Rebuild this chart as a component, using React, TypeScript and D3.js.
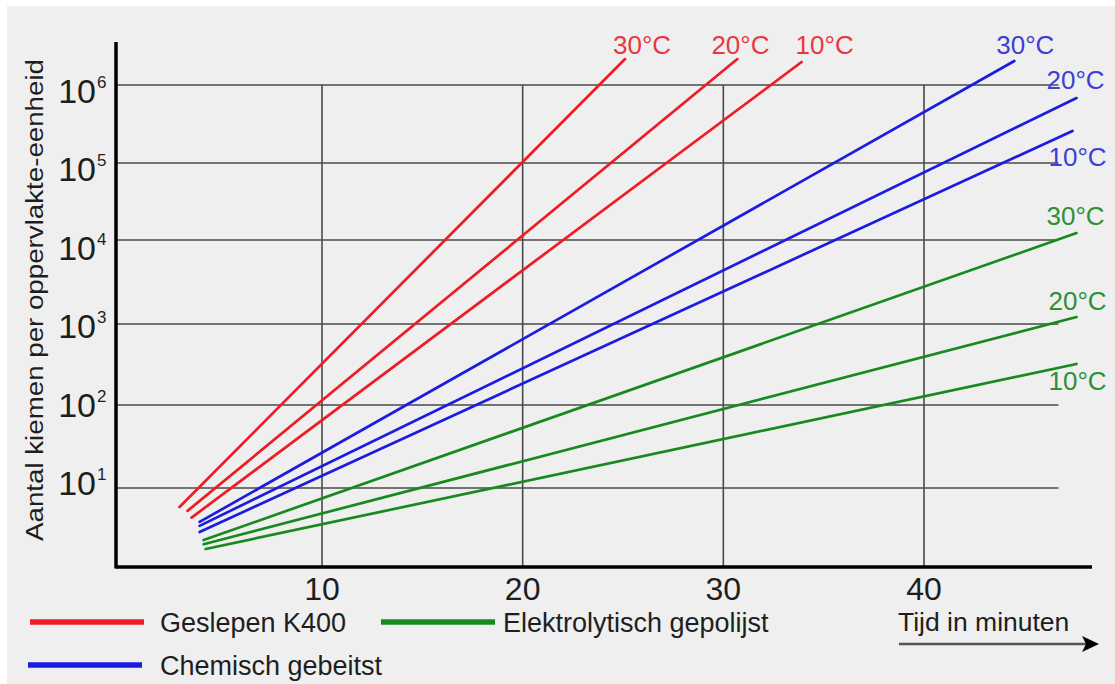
import React, { useEffect, useRef } from 'react';
import * as d3 from 'd3';

// time axis ticks (minutes) and decades on the count axis
const xTicks = [10, 20, 30, 40];
const yExponents = [1, 2, 3, 4, 5, 6];

// each line: start (t0 min, n0 count) to end (t1 min, n1 count)
const geslepen = [
  { temp: '30°C', t0: 2.9, n0: 5.9, t1: 25.1, n1: 2.15e6 },
  { temp: '20°C', t0: 3.3, n0: 5.3, t1: 30.7, n1: 2.15e6 },
  { temp: '10°C', t0: 3.5, n0: 4.4, t1: 33.9, n1: 1.97e6 },
];
const gebeitst = [
  { temp: '30°C', t0: 3.9, n0: 3.9, t1: 44.5, n1: 2.03e6 },
  { temp: '20°C', t0: 3.9, n0: 3.5, t1: 47.6, n1: 6.8e5 },
  { temp: '10°C', t0: 3.9, n0: 2.95, t1: 47.4, n1: 2.57e5 },
];
const gepolijst = [
  { temp: '30°C', t0: 4.1, n0: 2.36, t1: 47.6, n1: 1.23e4 },
  { temp: '20°C', t0: 4.1, n0: 2.1, t1: 47.6, n1: 1.21e3 },
  { temp: '10°C', t0: 4.2, n0: 1.84, t1: 47.6, n1: 321 },
];

const FONT = "'Liberation Sans', Arial, sans-serif";

const App = () => {
  const svgRef = useRef(null);

  useEffect(() => {
    const svg = d3.select(svgRef.current);
    svg.selectAll('*').remove();

    const left = 116;
    const bottom = 567;
    const top = 42;
    const right = 1092;

    const xScale = d3.scaleLinear().domain([10, 40]).range([322, 924]);
    // the printed decades are not evenly spaced, so use a piecewise log scale
    const yScale = d3.scaleLog()
      .domain([1e1, 1e2, 1e3, 1e4, 1e5, 1e6])
      .range([488, 405, 324, 240, 163, 85]);
    const labelY = d3.scaleLinear().domain([1, 6]).range([495, 103]);

    svg.append('rect')
      .attr('x', 7).attr('y', 6)
      .attr('width', 1115).attr('height', 684)
      .style('fill', '#efefef');

    const gridRight = xScale(46.7);

    // horizontal grid
    svg.selectAll('.hgrid')
      .data(yExponents)
      .enter()
      .append('line')
      .attr('x1', left).attr('x2', gridRight)
      .attr('y1', d => yScale(Math.pow(10, d)))
      .attr('y2', d => yScale(Math.pow(10, d)))
      .style('stroke', '#4a4a4a')
      .style('stroke-width', 1.6);

    // vertical grid
    svg.selectAll('.vgrid')
      .data(xTicks)
      .enter()
      .append('line')
      .attr('x1', d => xScale(d)).attr('x2', d => xScale(d))
      .attr('y1', yScale(1e6)).attr('y2', bottom)
      .style('stroke', '#4a4a4a')
      .style('stroke-width', 1.6);

    // axes
    svg.append('line')
      .attr('x1', left).attr('x2', left)
      .attr('y1', top).attr('y2', bottom + 1.5)
      .style('stroke', '#000').style('stroke-width', 3.5);
    svg.append('line')
      .attr('x1', left).attr('x2', right)
      .attr('y1', bottom).attr('y2', bottom)
      .style('stroke', '#000').style('stroke-width', 3.5);

    // y tick labels 10^n
    const yl = svg.selectAll('.ylab')
      .data(yExponents)
      .enter()
      .append('g');
    yl.append('text')
      .attr('x', 96)
      .attr('y', d => labelY(d))
      .attr('text-anchor', 'end')
      .style('font-family', FONT)
      .style('font-size', '34px')
      .style('fill', '#1e1e1e')
      .text('10');
    yl.append('text')
      .attr('x', 97)
      .attr('y', d => labelY(d) - 15)
      .style('font-family', FONT)
      .style('font-size', '17px')
      .style('fill', '#1e1e1e')
      .text(d => d);

    // x tick labels
    svg.selectAll('.xlab')
      .data(xTicks)
      .enter()
      .append('text')
      .attr('x', d => xScale(d))
      .attr('y', 600)
      .attr('text-anchor', 'middle')
      .style('font-family', FONT)
      .style('font-size', '32px')
      .style('fill', '#1e1e1e')
      .text(d => d);

    // y axis title
    svg.append('text')
      .attr('transform', 'translate(43,300) rotate(-90)')
      .attr('text-anchor', 'middle')
      .attr('textLength', 482)
      .attr('lengthAdjust', 'spacingAndGlyphs')
      .style('font-family', FONT)
      .style('font-size', '23px')
      .style('fill', '#1e1e1e')
      .text('Aantal kiemen per oppervlakte-eenheid');

    const groups = [
      { lines: geslepen, color: '#ee1c24', labelColor: '#e8383f',
        offsets: [[-12, -5], [-26, -5], [-6, -8]] },
      { lines: gebeitst, color: '#1c1ce0', labelColor: '#3e3ed6',
        offsets: [[-18, -7], [-30, -9], [-24, 35]] },
      { lines: gepolijst, color: '#178a1f', labelColor: '#2e8f37',
        offsets: [[-30, -8], [-28, -7], [-28, 26]] },
    ];

    groups.forEach(g => {
      svg.selectAll(null)
        .data(g.lines)
        .enter()
        .append('line')
        .attr('x1', d => xScale(d.t0)).attr('y1', d => yScale(d.n0))
        .attr('x2', d => xScale(d.t1)).attr('y2', d => yScale(d.n1))
        .style('stroke', g.color)
        .style('stroke-width', 2.7)
        .style('stroke-linecap', 'round');

      svg.selectAll(null)
        .data(g.lines)
        .enter()
        .append('text')
        .attr('x', (d, i) => xScale(d.t1) + g.offsets[i][0])
        .attr('y', (d, i) => yScale(d.n1) + g.offsets[i][1])
        .style('font-family', FONT)
        .style('font-size', '26px')
        .style('fill', g.labelColor)
        .text(d => d.temp);
    });

    // legend
    const legend = [
      { name: 'Geslepen K400', color: '#ee1c24', x: 30, tx: 160, y: 622 },
      { name: 'Elektrolytisch gepolijst', color: '#178a1f', x: 381, tx: 503, y: 622 },
      { name: 'Chemisch gebeitst', color: '#1c1ce0', x: 28, tx: 160, y: 665 },
    ];
    legend.forEach(l => {
      svg.append('line')
        .attr('x1', l.x).attr('x2', l.x + 114)
        .attr('y1', l.y).attr('y2', l.y)
        .style('stroke', l.color)
        .style('stroke-width', 5.5);
      svg.append('text')
        .attr('x', l.tx)
        .attr('y', l.y + 10)
        .style('font-family', FONT)
        .style('font-size', '27px')
        .style('fill', '#1e1e1e')
        .text(l.name);
    });

    // time arrow
    svg.append('text')
      .attr('x', 898)
      .attr('y', 631)
      .style('font-family', FONT)
      .style('font-size', '26.5px')
      .style('fill', '#1e1e1e')
      .text('Tijd in minuten');
    svg.append('line')
      .attr('x1', 899).attr('x2', 1086)
      .attr('y1', 644).attr('y2', 644)
      .style('stroke', '#555')
      .style('stroke-width', 2.5);
    svg.append('path')
      .attr('d', 'M1082,636 L1099,644 L1082,652 L1086,644 Z')
      .style('fill', '#000');
  }, []);

  return (
    <div style={{ position: 'absolute', left: 0, top: 0 }}>
      <svg ref={svgRef} width={1115} height={684} style={{ display: 'block', background: '#fff' }}></svg>
    </div>
  );
};

export default App;
